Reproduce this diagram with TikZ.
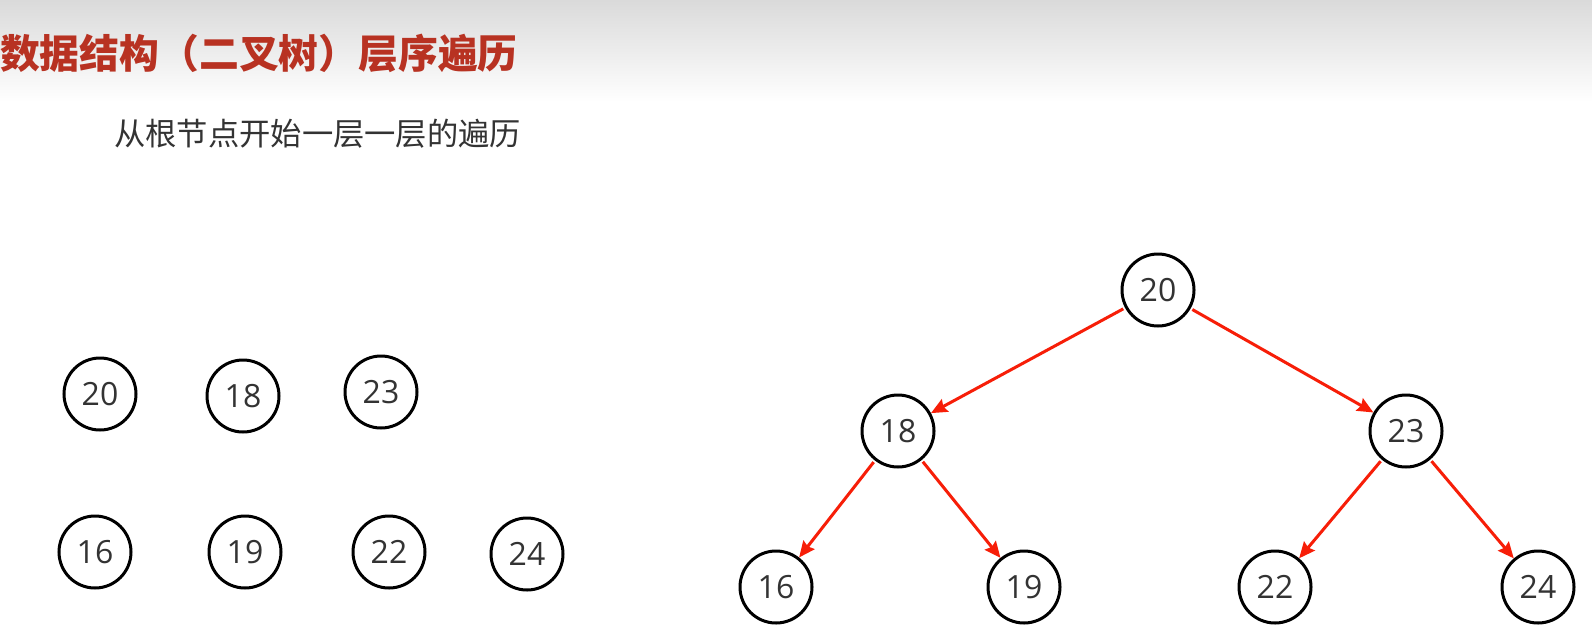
\documentclass[tikz,border=0pt]{standalone}
\usepackage{fontspec}
\setmainfont{Open Sans}
\newfontfamily\cjk{Noto Sans CJK SC}
\usetikzlibrary{arrows.meta}
\definecolor{titlered}{HTML}{B83222}
\definecolor{arrowred}{HTML}{F71E08}
\definecolor{txt}{HTML}{333333}
\definecolor{hdr}{HTML}{DADADA}
\begin{document}
\begin{tikzpicture}[x=1pt,y=-1pt,
  num/.style={circle,draw=black,line width=3pt,minimum size=72pt,inner sep=0pt,
    font=\fontsize{32}{32}\selectfont,text=txt},
  edge/.style={draw=arrowred,line width=3pt,shorten <=2pt,
    -{Stealth[length=16pt,width=14pt,inset=2pt]}}]
\useasboundingbox (0,0) rectangle (1592,627);
\fill[white] (0,0) rectangle (1592,627);
\shade[top color=hdr,bottom color=white] (0,0) rectangle (1592,102);
\node[anchor=west,inner sep=0pt,text=titlered,font=\cjk\bfseries\fontsize{39.8}{39.8}\selectfont] (title) at (0,53) {数据结构（二叉树）层序遍历};
\node[anchor=west,inner sep=0pt,text=txt,font=\cjk\fontsize{31.3}{31.3}\selectfont] (sub) at (114,134) {从根节点开始一层一层的遍历};
% left loose nodes
\node[num] (l20) at (100,394) {20};
\node[num] (l18) at (243,396) {18};
\node[num] (l23) at (381,392) {23};
\node[num] (l16) at (95,552) {16};
\node[num] (l19) at (245,552) {19};
\node[num] (l22) at (389,552) {22};
\node[num] (l24) at (527,554) {24};
% tree
\node[num] (t20) at (1158,290) {20};
\node[num] (t18) at (898,431) {18};
\node[num] (t23) at (1406,431) {23};
\node[num] (t16) at (776,587) {16};
\node[num] (t19) at (1024,587) {19};
\node[num] (t22) at (1275,587) {22};
\node[num] (t24) at (1538,587) {24};
\draw[edge] (t20) -- (t18);
\draw[edge] (t20) -- (t23);
\draw[edge] (t18) -- (t16);
\draw[edge] (t18) -- (t19);
\draw[edge] (t23) -- (t22);
\draw[edge] (t23) -- (t24);
\end{tikzpicture}
\end{document}
